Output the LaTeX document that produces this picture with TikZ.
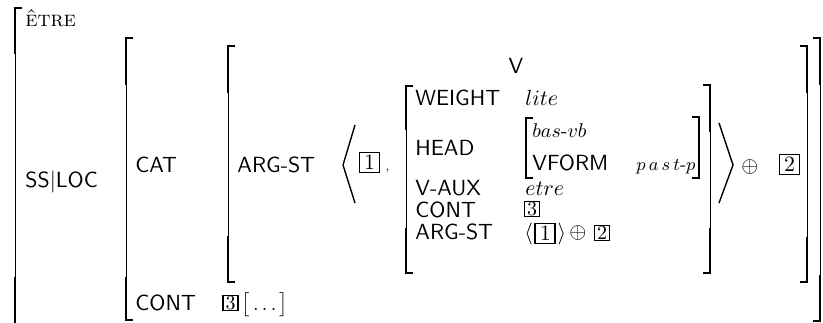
\documentclass[11pt,tikz,border=0pt]{standalone}
\usepackage{amsmath, amssymb}
\usepackage{tikz}
\usetikzlibrary{positioning}

\begin{document}
\begin{tikzpicture}[x=0.5pt, y=-0.5pt,
  brk/.style={line width=0.5pt},
  brkend/.style={line width=1.1pt},
  attr/.style={anchor=base west, inner sep=0pt, font=\sffamily},
  val/.style={anchor=base west, inner sep=0pt},
  tagbig/.style={draw, line width=0.9pt, inner sep=0pt, minimum size=10pt, font=\normalsize},
  tagsmall/.style={draw, line width=0.8pt, inner sep=0pt, minimum size=7.5pt, font=\small}]
\clip (0,0) rectangle (823,322);
\fill[white] (0,0) rectangle (823,322);
% outer bracket
\draw[brk] (15,8) -- (15,330);
\draw[brkend] (22,8) -- (15,8) -- (15,54);
\draw[brkend] (15,277) -- (15,330);
% SS|LOC value
\draw[brk] (133,38) -- (126,38) -- (126,320) -- (133,320);
\draw[brkend] (133,38) -- (126,38) -- (126,85);
\draw[brkend] (126,277) -- (126,320) -- (133,320);
\draw[brk] (813,38) -- (820,38) -- (820,321) -- (813,321);
\draw[brkend] (813,38) -- (820,38) -- (820,85);
\draw[brkend] (820,275) -- (820,321) -- (813,321);
% CAT value
\draw[brk] (235,46) -- (228,46) -- (228,282) -- (235,282);
\draw[brkend] (235,46) -- (228,46) -- (228,93);
\draw[brkend] (228,236) -- (228,282) -- (235,282);
\draw[brk] (800,46) -- (807,46) -- (807,282) -- (800,282);
\draw[brkend] (800,46) -- (807,46) -- (807,93);
\draw[brkend] (807,237) -- (807,282) -- (800,282);
% list element
\draw[brk] (413,86) -- (406,86) -- (406,273) -- (413,273);
\draw[brkend] (413,86) -- (406,86) -- (406,130);
\draw[brkend] (406,228) -- (406,273) -- (413,273);
\draw[brk] (703,85) -- (710,85) -- (710,273) -- (703,273);
\draw[brkend] (703,85) -- (710,85) -- (710,132);
\draw[brkend] (710,228) -- (710,273) -- (703,273);
% HEAD value
\draw[brkend] (533,118) -- (526,118) -- (526,178) -- (533,178);
\draw[brkend] (692,117) -- (699,117) -- (699,178) -- (692,178);
% list angles
\draw[line width=0.7pt] (355,125) -- (343,165) -- (355,203);
\draw[line width=0.7pt] (719,123) -- (733,165) -- (719,203);

\node[val] (etretype) at (25,26) {\textsc{être}};
\node[attr] (ssloc) at (25,187) {SS$|$LOC};
\node[attr] (cat) at (135,172) {CAT};
\node[attr] (argst) at (237,172) {ARG-ST};
\node[attr] (cont) at (135,310) {CONT};
\node[tagsmall] (tagthreeb) at (230.5,303) {3};
\node[val, font=\small] (dots) at (241,310) {$\big[\dots\big]$};

\node[tagbig] (tagone) at (369.5,162.5) {1};
\node[val] (comma) at (385,170) {\tiny ,};

\node[anchor=base, inner sep=0pt, font=\sffamily] (vcat) at (516,73) {V};
\node[attr] (weight) at (415,105) {WEIGHT};
\node[val] (lite) at (525,105) {$lite$};
\node[attr] (head) at (415,155) {HEAD};
\node[val] (basvb) at (532,137) {\small $bas$-$vb$};
\node[attr] (vform) at (532,170) {VFORM};
\node[val] (pastp) at (636,170) {\footnotesize $p\,a\,s\,t$-$p$};
\node[attr] (vaux) at (415,195) {V-AUX};
\node[val] (etre) at (525,195) {$etre$};
\node[attr] (conttwo) at (415,217) {CONT};
\node[tagsmall] (tagthree) at (532,209) {3};
\node[attr] (argsttwo) at (415,239) {ARG-ST};
\node[val] (la) at (524,239) {$\langle$};
\node[tagbig, right=0.5pt of la.east, anchor=west] (tagonetwo) {1};
\node[val, right=0.5pt of tagonetwo.east, anchor=west] (ra) {$\rangle$};
\node (oplustwo) at (578,233) {$\oplus$};
\node[tagsmall] (tagtwo) at (602,233) {2};

\node (oplus) at (750,167) {$\oplus$};
\node[tagbig] (tagtwob) at (789.5,164.5) {2};
\end{tikzpicture}
\end{document}
